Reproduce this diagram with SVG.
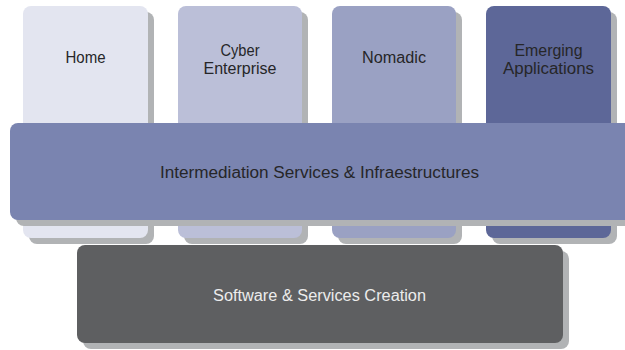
<svg xmlns="http://www.w3.org/2000/svg" width="625" height="350" viewBox="0 0 625 350">
<style>
.sh{fill:#b1b3b5}
.t{font-family:"Liberation Sans",Arial,sans-serif;font-size:16px;fill:#262628;text-anchor:middle}
.tw{font-family:"Liberation Sans",Arial,sans-serif;font-size:16px;fill:#ececec;text-anchor:middle}
</style>
<rect width="625" height="350" fill="#ffffff"/>
<g id="home">
<rect class="sh" x="29" y="12" width="125" height="232" rx="8"/>
<rect x="23" y="6" width="125" height="232" rx="8" fill="#e3e5f0"/>
<text class="t" x="85.5" y="63" textLength="40" lengthAdjust="spacingAndGlyphs">Home</text>
</g>
<g id="cyber">
<rect class="sh" x="184" y="12" width="124" height="232" rx="8"/>
<rect x="178" y="6" width="124" height="232" rx="8" fill="#bbbfd8"/>
<text class="t" x="240" y="56" textLength="39" lengthAdjust="spacingAndGlyphs">Cyber</text>
<text class="t" x="240" y="74" textLength="73" lengthAdjust="spacingAndGlyphs">Enterprise</text>
</g>
<g id="nomadic">
<rect class="sh" x="338" y="12" width="124" height="232" rx="8"/>
<rect x="332" y="6" width="124" height="232" rx="8" fill="#9aa1c3"/>
<text class="t" x="394" y="63" textLength="64" lengthAdjust="spacingAndGlyphs">Nomadic</text>
</g>
<g id="emerging">
<rect class="sh" x="492" y="12" width="125" height="232" rx="8"/>
<rect x="486" y="6" width="125" height="232" rx="8" fill="#5d6798"/>
<text class="t" x="548.5" y="56" textLength="68" lengthAdjust="spacingAndGlyphs">Emerging</text>
<text class="t" x="548.5" y="74" textLength="91" lengthAdjust="spacingAndGlyphs">Applications</text>
</g>
<g id="intermediation">
<rect class="sh" x="16" y="129" width="630" height="97" rx="8"/>
<rect x="10" y="123" width="630" height="97" rx="8" fill="#7a84b0"/>
<text class="t" x="319.5" y="178" textLength="319" lengthAdjust="spacingAndGlyphs">Intermediation Services &amp; Infraestructures</text>
</g>
<g id="software">
<rect class="sh" x="83" y="251" width="486" height="98" rx="8"/>
<rect x="77" y="245" width="486" height="98" rx="8" fill="#5e5f61"/>
<text class="tw" x="319.5" y="301" textLength="213" lengthAdjust="spacingAndGlyphs">Software &amp; Services Creation</text>
</g>
<g id="connectors"></g>
</svg>
